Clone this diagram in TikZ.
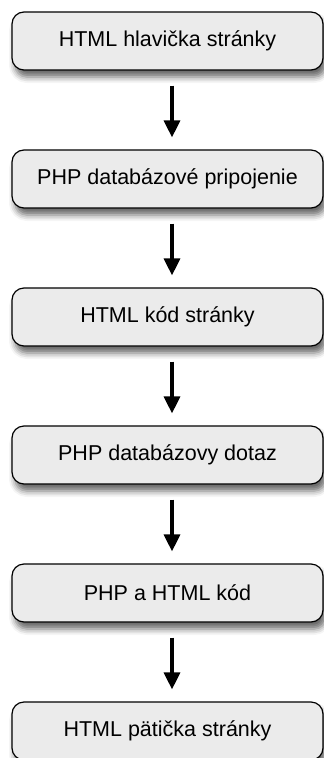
\documentclass[tikz,border=0pt]{standalone}
\usepackage{fontspec}
\setmainfont{Liberation Sans}
\usetikzlibrary{shadows.blur,arrows.meta}
\begin{document}
\begin{tikzpicture}[x=1pt,y=-1pt,
  stepbox/.style={draw=black, line width=1.2pt, rounded corners=12pt,
    fill=black!8, minimum width=311pt, minimum height=58pt,
    inner sep=0pt, font=\fontsize{21.5}{24}\selectfont,
    blur shadow={shadow xshift=3pt, shadow yshift=-7pt, shadow blur radius=6pt,
      shadow opacity=60}},
  flow/.style={line width=3.3pt, -{Triangle[length=17pt,width=16pt]}}]
\useasboundingbox (0,0) rectangle (324,758);
\node[stepbox] (s1) at (167.5,41)  {HTML hlavička stránky};
\node[stepbox] (s2) at (167.5,179) {PHP databázové pripojenie};
\node[stepbox] (s3) at (167.5,317) {HTML kód stránky};
\node[stepbox] (s4) at (167.5,455) {PHP databázovy dotaz};
\node[stepbox] (s5) at (167.5,593) {PHP a HTML kód};
\node[stepbox] (s6) at (167.5,731) {HTML pätička stránky};
\foreach \a/\b in {s1/s2,s2/s3,s3/s4,s4/s5,s5/s6}{
  \draw[flow] ([xshift=4.5pt,yshift=-15pt]\a.south) -- ([xshift=4.5pt,yshift=12pt]\b.north);
}
\end{tikzpicture}
\end{document}
